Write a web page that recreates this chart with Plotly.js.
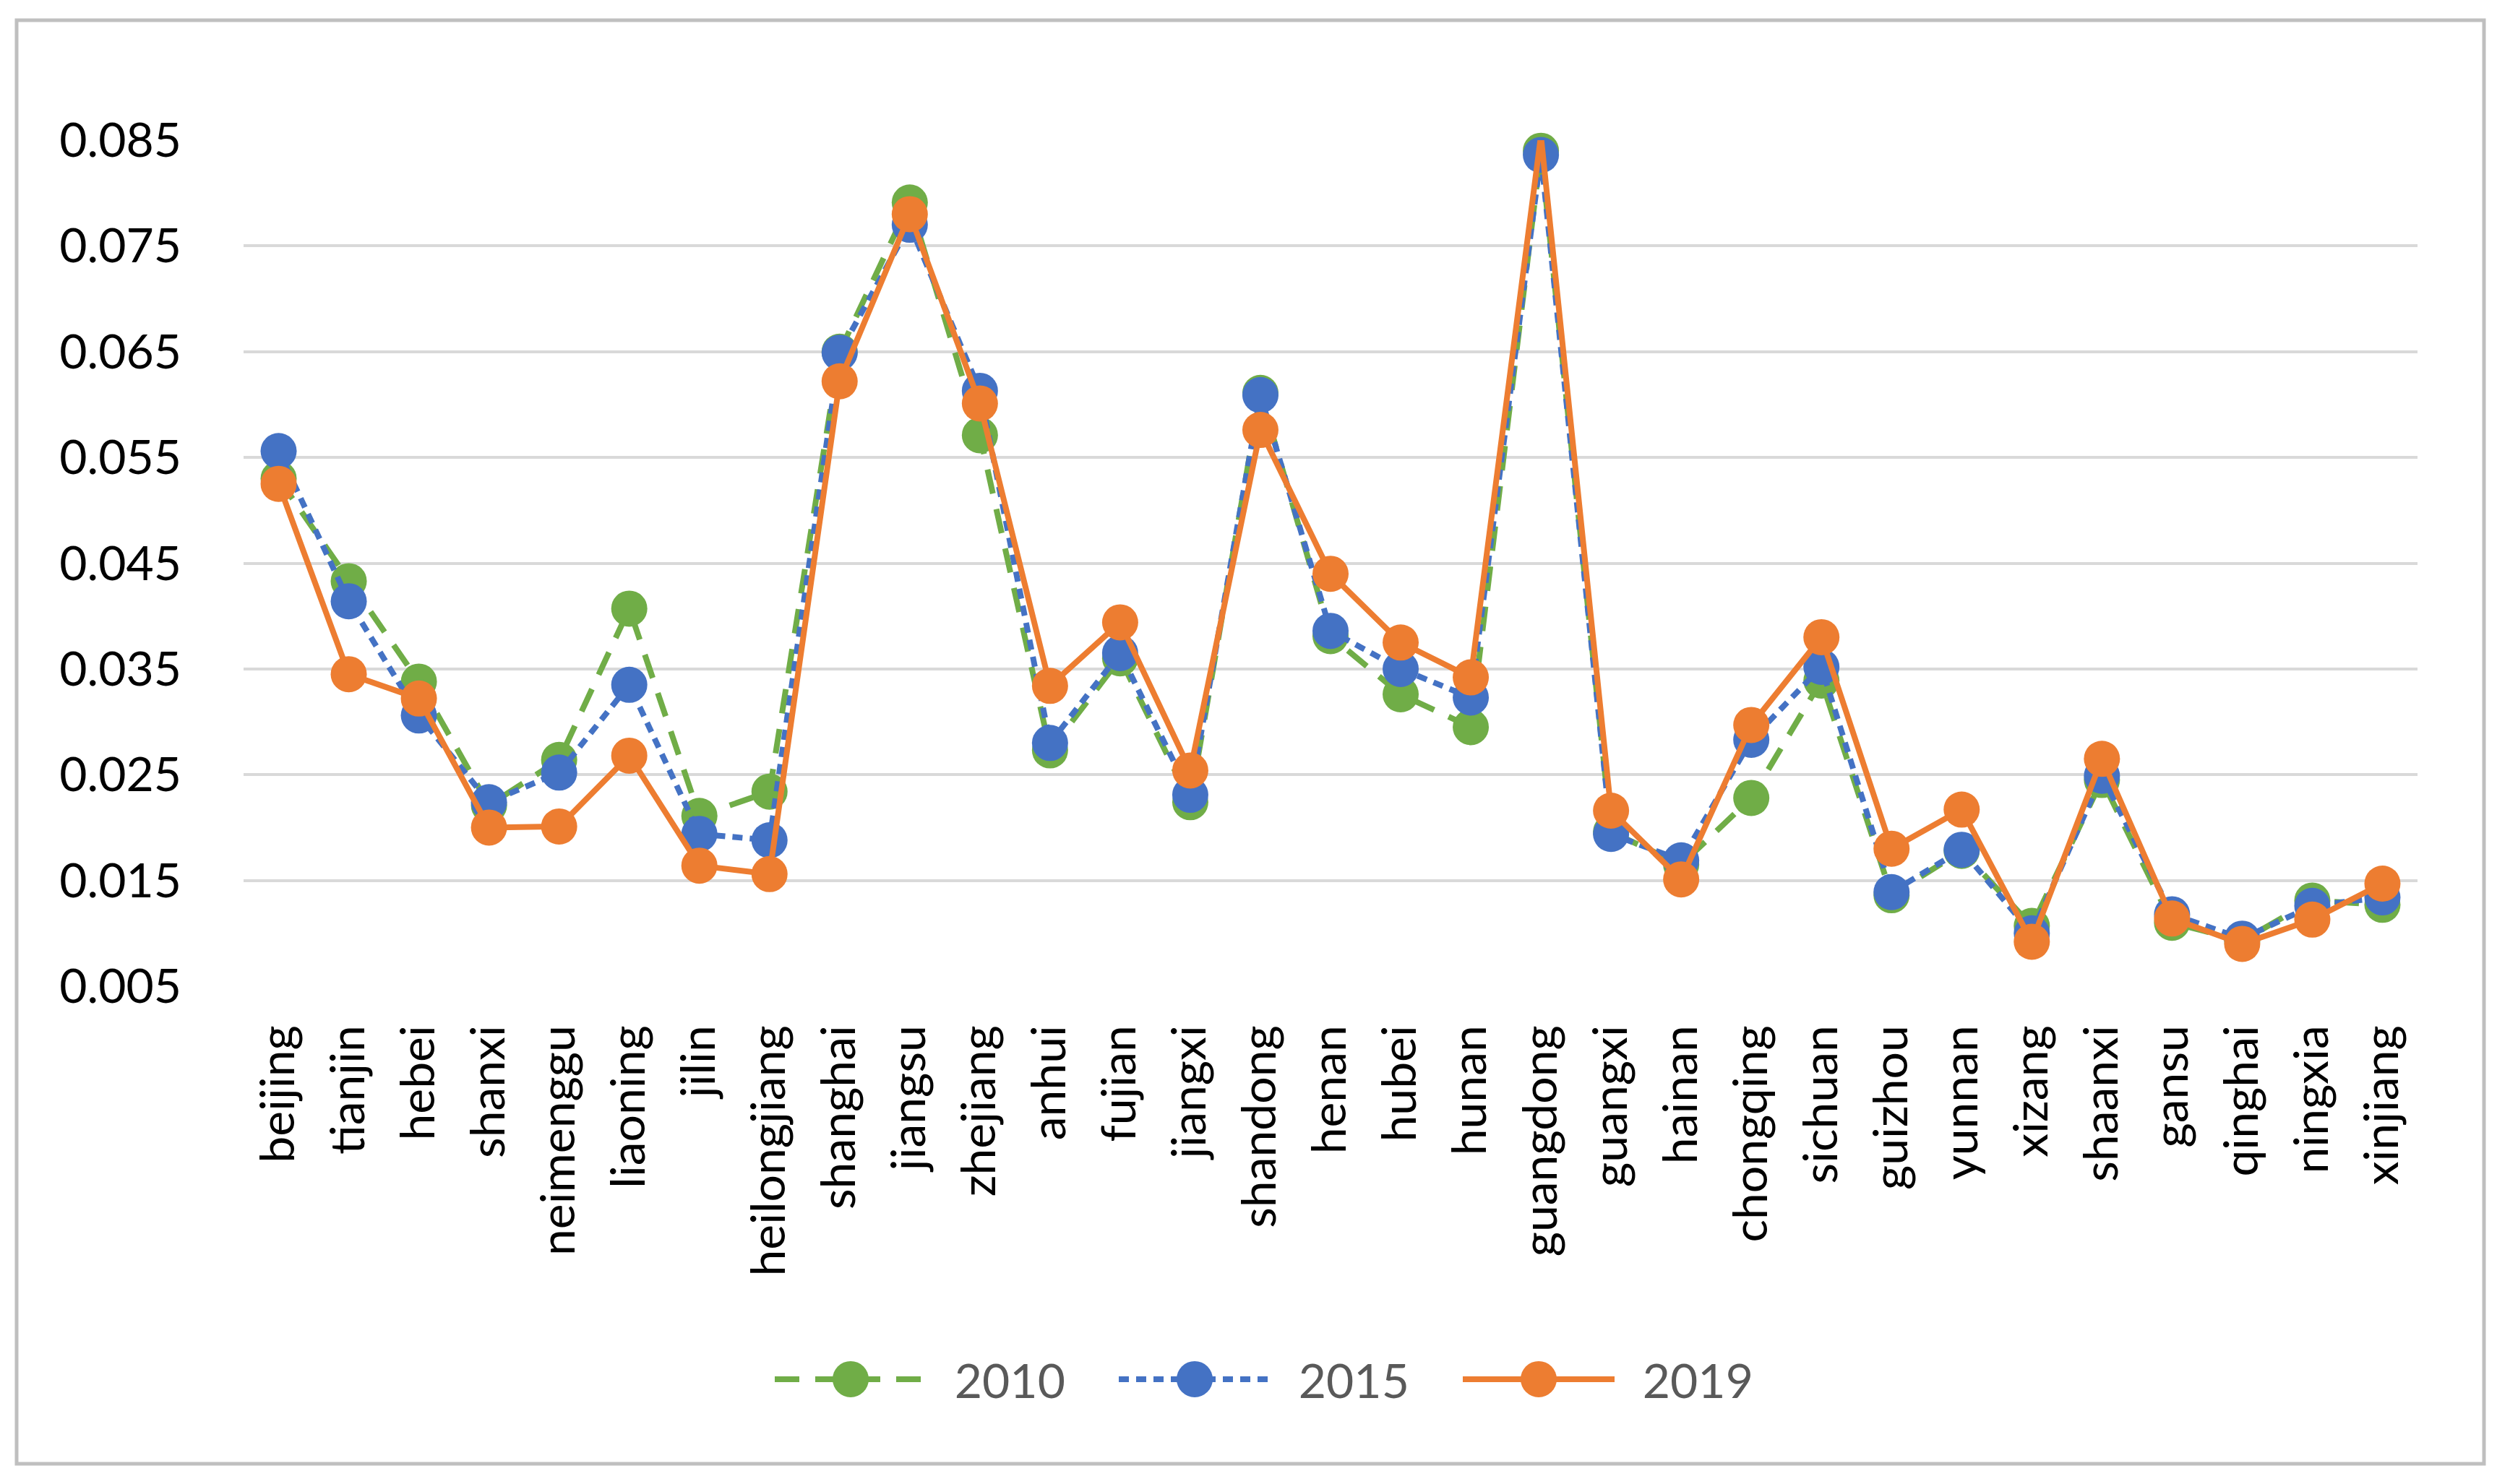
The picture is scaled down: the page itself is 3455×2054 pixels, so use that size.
<!DOCTYPE html>
<html>
<head>
<meta charset="utf-8">
<script src="https://cdn.plot.ly/plotly-3.0.1.min.js"></script>
<style>html,body{margin:0;padding:0;background:#fff;}#chart{width:3455px;height:2054px;}</style>
</head>
<body>
<div id="chart"></div>
<script>
const provinces = ["beijing","tianjin","hebei","shanxi","neimenggu","liaoning","jilin","heilongjiang","shanghai","jiangsu","zhejiang","anhui","fujian","jiangxi","shandong","henan","hubei","hunan","guangdong","guangxi","hainan","chongqing","sichuan","guizhou","yunnan","xizang","shaanxi","gansu","qinghai","ningxia","xinjiang"];
const values2010 = [0.0530,0.0433,0.0338,0.0221,0.0264,0.0407,0.0211,0.0234,0.0650,0.0791,0.0571,0.0273,0.0360,0.0224,0.0611,0.0381,0.0326,0.0295,0.0840,0.0196,0.0165,0.0228,0.0339,0.0136,0.0178,0.0107,0.0245,0.0110,0.0093,0.0131,0.0127];
const values2015 = [0.0556,0.0414,0.0306,0.0224,0.0252,0.0335,0.0194,0.0188,0.0649,0.0770,0.0613,0.0280,0.0365,0.0231,0.0609,0.0386,0.0350,0.0323,0.0836,0.0194,0.0169,0.0283,0.0352,0.0139,0.0179,0.0100,0.0249,0.0118,0.0095,0.0126,0.0134];
const values2019 = [0.0525,0.0345,0.0322,0.0200,0.0201,0.0268,0.0164,0.0156,0.0622,0.0780,0.0601,0.0334,0.0394,0.0254,0.0576,0.0440,0.0375,0.0342,0.0854,0.0216,0.0151,0.0297,0.0380,0.0180,0.0217,0.0092,0.0265,0.0114,0.0090,0.0113,0.0147];
const seriesNames = ["2010","2015","2019"];
const yTicks = [0.005,0.015,0.025,0.035,0.045,0.055,0.065,0.075,0.085];

const FONT = "Lato, 'Open Sans', sans-serif";
const W = 3455, H = 2054;
const mL = 337, mR = 110, mT = 194, mB = 689;
const pw = W - mL - mR, ph = H - mT - mB;
const px = x => (x - mL) / pw;
const py = y => (H - mB - y) / ph;

const styles = [
  {color: "#70ad47", dash: "34px,22px"},
  {color: "#4472c4", dash: "14px,10px"},
  {color: "#ed7d31", dash: "solid"}
];
const data = [values2010, values2015, values2019].map((v, i) => ({
  type: "scatter",
  mode: "lines+markers",
  name: "\u00a0\u00a0" + seriesNames[i],
  x: provinces,
  y: v,
  cliponaxis: false,
  line: {color: styles[i].color, width: 8, dash: styles[i].dash},
  marker: {color: styles[i].color, size: 50, line: {width: 0}}
}));

const layout = {
  width: W, height: H,
  margin: {l: mL, r: mR, t: mT, b: mB},
  paper_bgcolor: "#ffffff",
  plot_bgcolor: "#ffffff",
  showlegend: true,
  font: {family: FONT, color: "#000000", size: 66},
  xaxis: {
    type: "category",
    tickangle: -90,
    showgrid: false,
    zeroline: false,
    showline: false,
    ticks: "",
    ticklabelstandoff: 40,
    tickfont: {family: FONT, size: 66, color: "#000000"},
    range: [-0.5, provinces.length - 0.5]
  },
  yaxis: {
    range: [0.005, 0.085],
    tickvals: yTicks,
    ticktext: yTicks.map(v => v.toFixed(3)),
    showgrid: true,
    gridcolor: "#d9d9d9",
    gridwidth: 4,
    zeroline: false,
    showline: false,
    ticks: "",
    ticklabelstandoff: 85,
    tickfont: {family: FONT, size: 66, color: "#000000"}
  },
  legend: {
    orientation: "h",
    x: px(1067), xanchor: "left",
    y: py(1909), yanchor: "middle",
    font: {family: FONT, size: 66, color: "#595959"},
    itemwidth: 210,
    entrywidth: 251,
    entrywidthmode: "pixels",
    itemsizing: "trace",
    traceorder: "normal",
    bgcolor: "rgba(0,0,0,0)"
  },
  shapes: [{
    type: "rect", xref: "paper", yref: "paper",
    x0: px(23), x1: px(3437), y0: py(2026), y1: py(28),
    line: {color: "#bfbfbf", width: 5}, fillcolor: "rgba(0,0,0,0)", layer: "below"
  }]
};

Plotly.newPlot("chart", data, layout, {displayModeBar: false, staticPlot: true}).then(gd => {
  // enlarge legend symbols to match the chart's markers
  gd.querySelectorAll('.legend .traces').forEach(tr => {
    tr.querySelectorAll('.legendpoints path.scatterpts').forEach(p => {
      p.setAttribute('d', 'M25,0A25,25 0 1,1 0,-25A25,25 0 0,1 25,0Z');
    });
    tr.querySelectorAll('.legendlines path').forEach(p => {
      p.style.strokeWidth = '8px';
    });
  });
});
</script>
</body>
</html>
